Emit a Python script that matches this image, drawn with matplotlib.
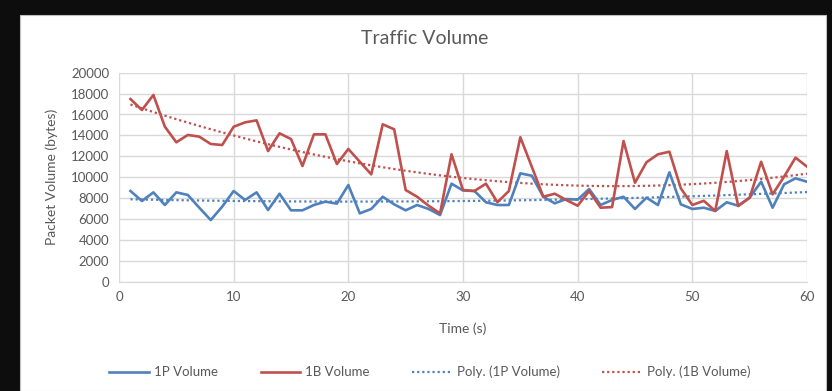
import numpy as np
import matplotlib
matplotlib.use('Agg')
import matplotlib.pyplot as plt
from matplotlib.patches import Rectangle

plt.rcParams['font.family'] = ['Lato', 'DejaVu Sans']

# time in seconds
time_s = list(range(1, 61))

vol_1p = [8680, 7720, 8550, 7340, 8550, 8300, 7080, 5900, 7180, 8680,
          7820, 8550, 6860, 8420, 6830, 6830, 7340, 7660, 7470, 9250,
          6540, 6960, 8130, 7400, 6830, 7340, 6960, 6380, 9380, 8730,
          8680, 7600, 7340, 7340, 10370, 10140, 8130, 7500, 7910, 7850,
          8870, 7340, 7820, 8130, 6960, 8040, 7340, 10470, 7400, 6960,
          7080, 6770, 7600, 7270, 8040, 9570, 7080, 9320, 9890, 9570]

vol_1b = [17480, 16430, 17870, 14830, 13340, 14040, 13880, 13180, 13080, 14830,
          15250, 15440, 12500, 14200, 13650, 11070, 14100, 14100, 11260, 12700,
          11480, 10270, 15060, 14580, 8770, 8130, 7270, 6540, 12190, 8770,
          8680, 9380, 7600, 8680, 13820, 11000, 8130, 8420, 7820, 7270,
          8680, 7080, 7140, 13460, 9470, 11430, 12190, 12440, 8930, 7340,
          7740, 6770, 12500, 7240, 8040, 11480, 8360, 10050, 11870, 11010]

blue = '#4f81bd'
red = '#c0504d'
txt = '#595959'

fig = plt.figure(figsize=(8.32, 3.91), dpi=100)
fig.patch.set_facecolor('#0d0d0d')
# white chart area on dark background
bg = Rectangle((20/832, 0), 806/832, 1 - 15/391,
               transform=fig.transFigure, facecolor='white',
               edgecolor='#bfbfbf', lw=0.8, zorder=-10)
fig.patches.append(bg)

ax = fig.add_axes([119/832, 1 - 281.7/391, (807 - 119)/832, (281.7 - 72.7)/391])
ax.set_zorder(1)
ax.set_facecolor('white')

x = np.array(time_s)
ax.plot(x, vol_1p, color=blue, lw=1.9, label='1P Volume', zorder=3)
ax.plot(x, vol_1b, color=red, lw=1.9, label='1B Volume', zorder=3)

# Excel style polynomial (order 2) trendlines
p1 = np.polyfit(x, vol_1p, 2)
p2 = np.polyfit(x, vol_1b, 2)
ax.plot(x, np.polyval(p1, x), color=blue, lw=1.6, ls=(0, (1, 1.3)),
        label='Poly. (1P Volume)', zorder=2)
ax.plot(x, np.polyval(p2, x), color=red, lw=1.6, ls=(0, (1, 1.3)),
        label='Poly. (1B Volume)', zorder=2)

ax.set_xlim(0, 60)
ax.set_ylim(0, 20000)
ax.set_xticks(range(0, 61, 10))
ax.set_yticks(range(0, 20001, 2000))
ax.grid(True, color='#d9d9d9', lw=1.0)
ax.set_axisbelow(True)
for s in ax.spines.values():
    s.set_visible(False)
ax.spines['bottom'].set_visible(True)
ax.spines['bottom'].set_color('#d9d9d9')
ax.tick_params(length=0, colors=txt, labelsize=9.5, pad=7)

ax.set_xlabel('Time (s)', color=txt, fontsize=10, labelpad=14)
ax.set_ylabel('Packet Volume (bytes)', color=txt, fontsize=10, labelpad=9)
fig.text(425/832, 1 - 38/391, 'Traffic Volume', ha='center', va='center',
         color=txt, fontsize=14)

fig.legend(loc='center', bbox_to_anchor=(430/832, 1 - 372/391), ncol=4,
           frameon=False, fontsize=9.5, labelcolor=txt, handlelength=3.0,
           columnspacing=3.2, handletextpad=0.4)

fig.savefig('out.png', dpi=100, facecolor=fig.get_facecolor())
